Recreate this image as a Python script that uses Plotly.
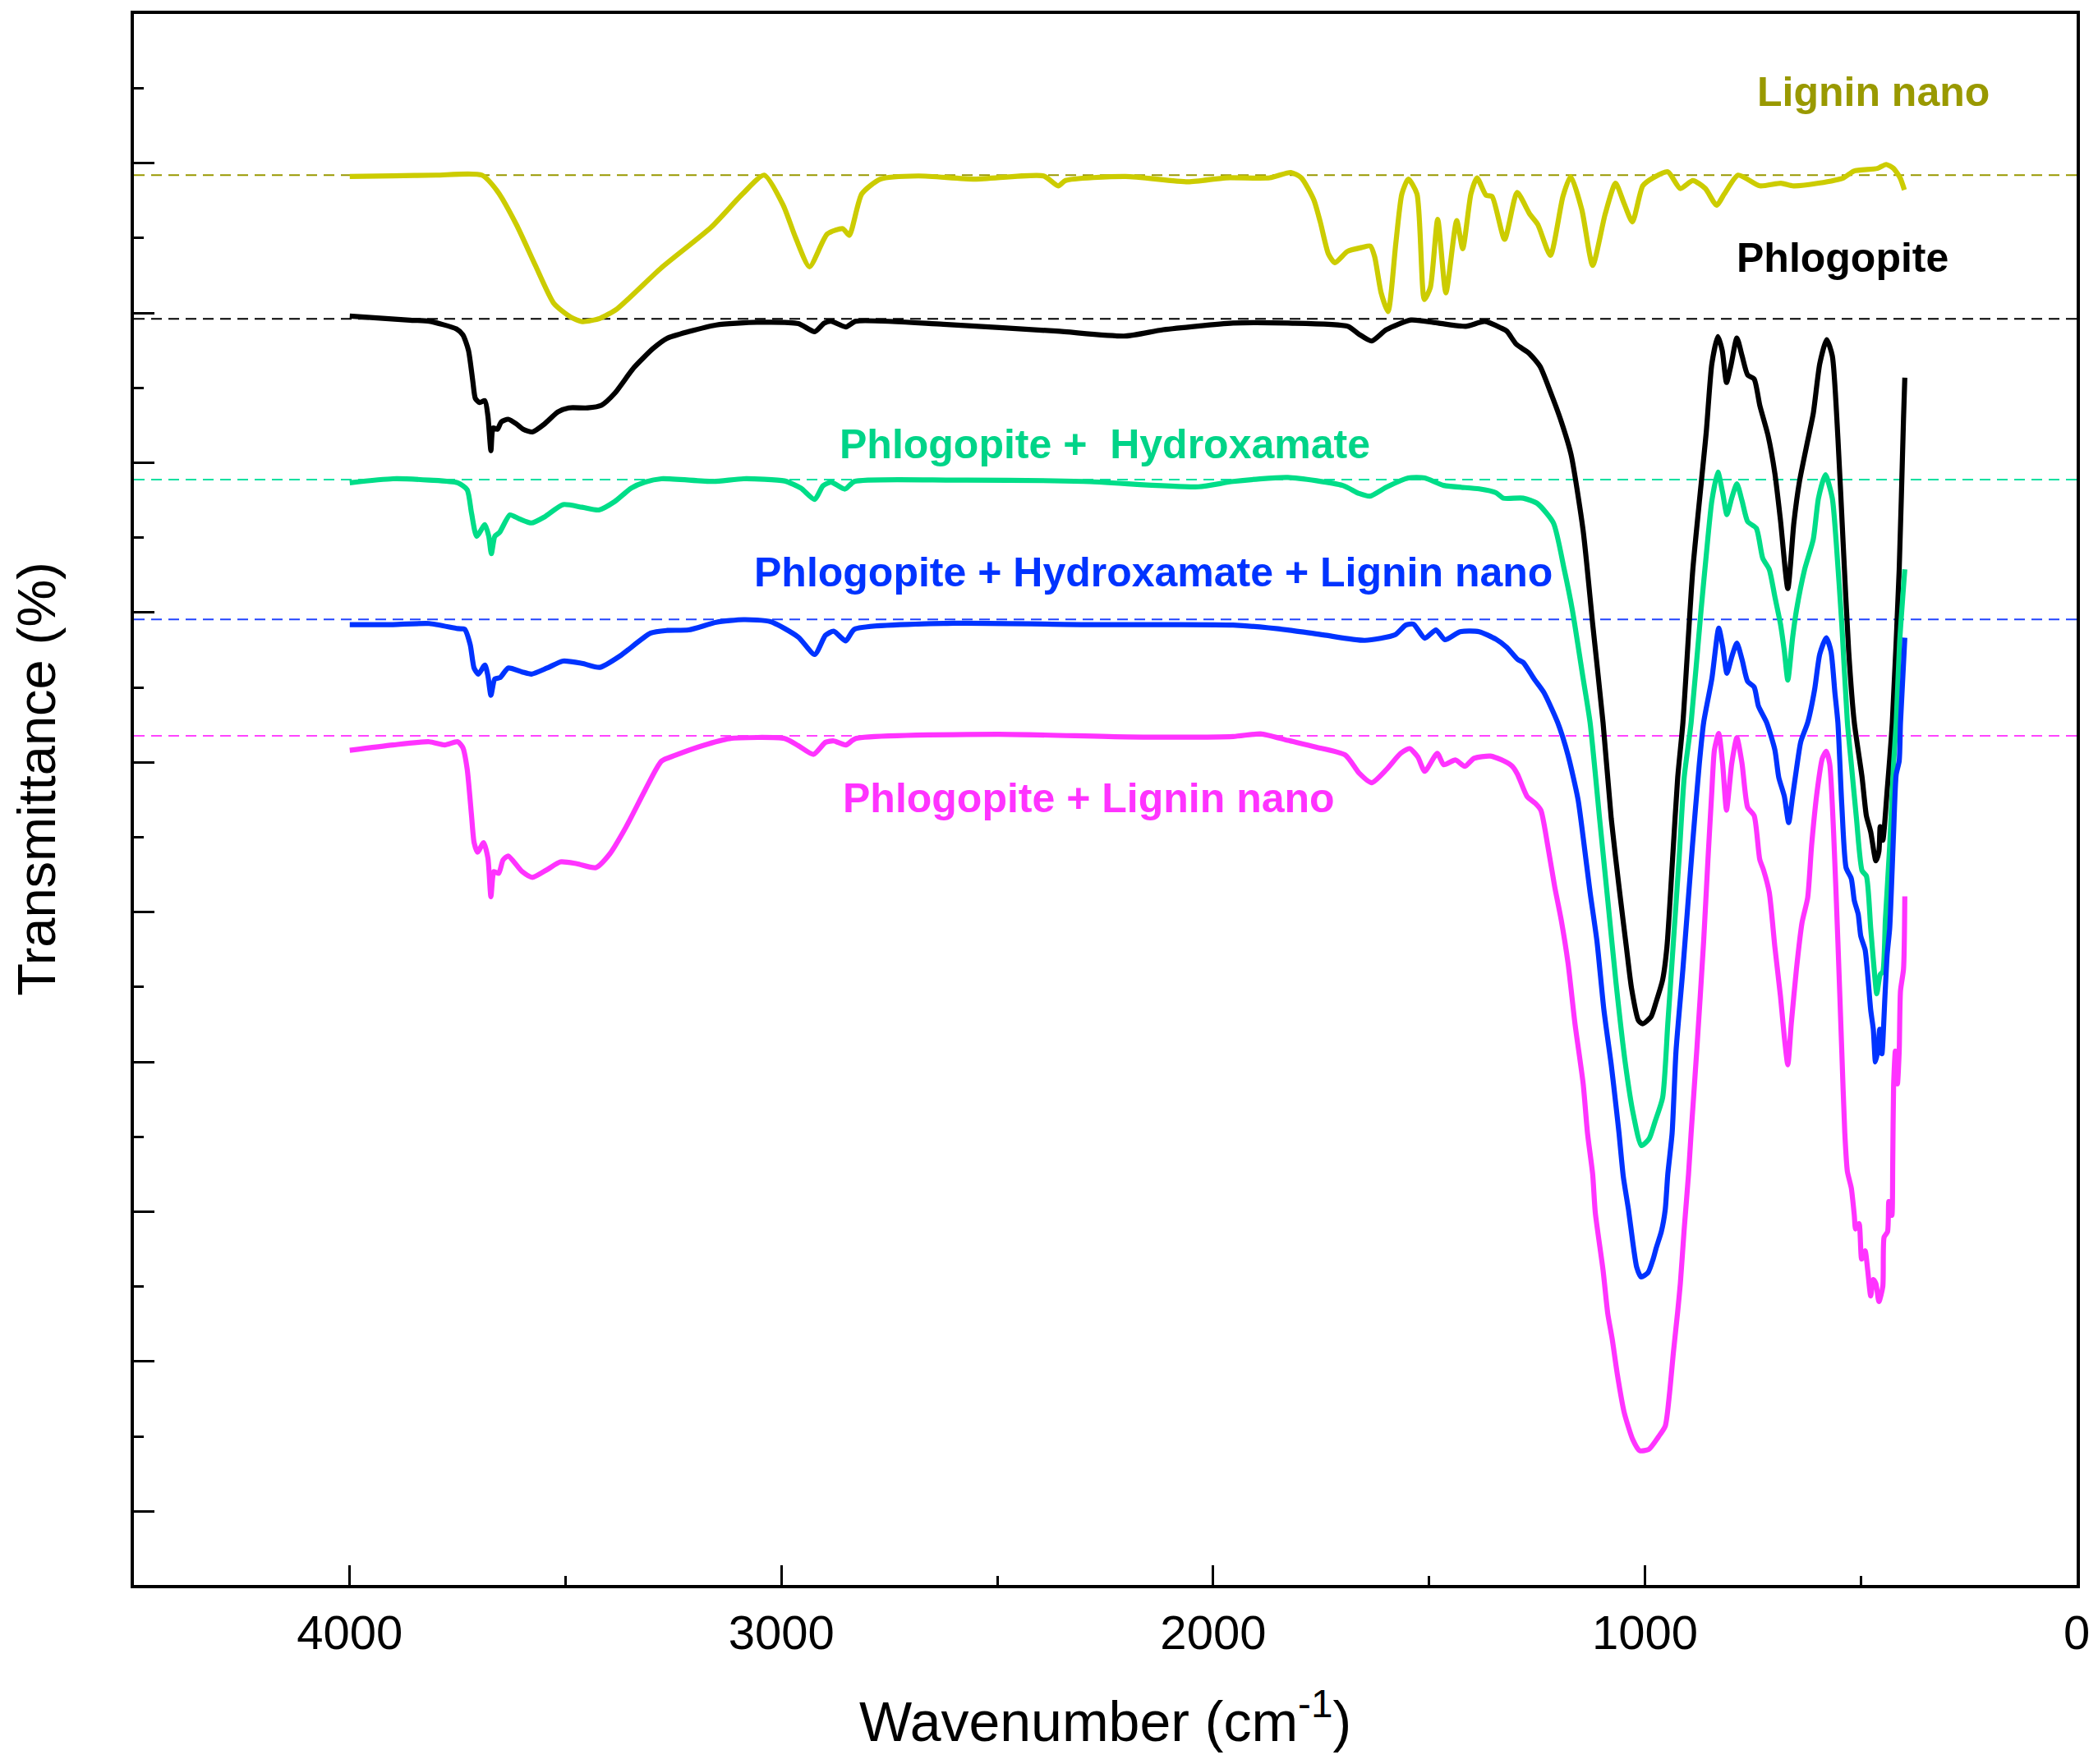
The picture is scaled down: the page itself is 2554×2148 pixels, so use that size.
import plotly.graph_objects as go

# ---------------- data (wavenumber in cm-1, transmittance in arbitrary offset units) -------------
lignin_wn = [4000, 3900, 3800, 3694, 3658, 3614, 3570, 3527, 3489, 3461, 3420, 3381, 3279, 3163, 3090,
             3040, 2996, 2967, 2935, 2894, 2858, 2843, 2814, 2771, 2683, 2553, 2393, 2359, 2342, 2203,
             2058, 1971, 1869, 1820, 1796, 1767, 1752, 1733, 1718, 1689, 1655, 1636, 1626, 1611, 1595,
             1577, 1563, 1548, 1528, 1511, 1497, 1480, 1461, 1436, 1422, 1403, 1389, 1368, 1354, 1325,
             1296, 1267, 1248, 1219, 1190, 1172, 1146, 1121, 1092, 1068, 1049, 1029, 1005, 981, 947,
             918, 889, 860, 834, 816, 784, 734, 685, 656, 598, 540, 516, 462, 441, 424, 409, 399]
lignin_t = [1068, 1068.5, 1069, 1069, 1057, 1032, 1001.5, 973, 963, 959.5, 962, 969, 999.5, 1030, 1055,
            1069, 1046.5, 1022, 1000.5, 1025, 1029, 1024, 1055, 1066, 1068.4, 1066, 1068.4, 1061, 1065, 1068,
            1064, 1067, 1067, 1071, 1067, 1050.6, 1034, 1010, 1003.5, 1012, 1015, 1016, 1008, 981, 967,
            1018, 1055, 1066, 1055, 976, 985, 1036, 981, 1035, 1014, 1055, 1067, 1054, 1053, 1021,
            1056, 1040, 1032, 1009, 1053, 1068, 1043, 1001.5, 1040, 1063, 1048.5, 1034, 1061, 1067, 1071.5,
            1059, 1065, 1059, 1046.5, 1055, 1069, 1061, 1063, 1061, 1063, 1067, 1072, 1074, 1077, 1074, 1067, 1058]

phlog_wn = [4000, 3861, 3816, 3753, 3738, 3725, 3715, 3709, 3699, 3687, 3680, 3673, 3668, 3658, 3649,
            3633, 3614, 3598, 3577, 3549, 3518, 3493, 3449, 3417, 3386, 3342, 3297, 3265, 3215, 3151,
            3056, 2961, 2923, 2901, 2885, 2851, 2828, 2625, 2363, 2203, 2116, 1954, 1827, 1688, 1662,
            1633, 1599, 1542, 1479, 1415, 1371, 1333, 1320, 1298, 1269, 1243, 1219, 1194, 1171, 1143,
            1121, 1097, 1078, 1060, 1043, 1031, 1015, 1005, 986, 974, 959, 949, 936, 924, 912,
            889, 858, 845, 831, 821, 811, 800, 787, 775, 762, 747, 734, 715, 699, 686,
            669, 655, 642, 623, 610, 595, 579, 566, 553, 541, 528, 515, 497, 487, 477,
            465, 458, 455, 449, 439, 427, 411, 401, 398]
phlog_t = [963.6, 960.6, 959.8, 954, 949.6, 938, 915, 902, 899, 900.4, 889, 863, 880, 879, 884.5,
           886.5, 883, 879, 877, 883, 892, 895, 895, 897, 906, 925, 939.5, 947, 952, 957,
           959, 958, 952, 958.4, 959.8, 955.5, 959.8, 957.5, 952.4, 948.7, 953.4, 958.4, 958.4, 956, 950,
           945, 953.5, 960.7, 958.4, 956, 959.6, 954.7, 952.4, 942.6, 936, 926, 907, 885, 860, 803,
           733.4, 659.7, 588, 537, 492, 461, 437, 434.6, 439.7, 451, 467.4, 492, 557.4, 619, 659.7,
           774.3, 876.6, 928, 948.3, 938, 914, 928, 947.3, 934, 919.6, 916.6, 897, 874.6, 846, 811,
           760, 809, 840, 870.5, 891, 928, 946, 934, 872.6, 794.8, 713, 659.7, 618.8, 590, 578,
           556.4, 563.5, 582, 571.7, 608.6, 659.7, 774.3, 887, 917.6]

hydrox_wn = [4000, 3900, 3816, 3750, 3728, 3718, 3706, 3687, 3678, 3672, 3664, 3653, 3629, 3607, 3579,
             3549, 3506, 3462, 3423, 3386, 3348, 3316, 3278, 3158, 3088, 2993, 2955, 2923, 2904, 2885,
             2853, 2831, 2600, 2300, 2034, 1954, 1827, 1700, 1662, 1637, 1599, 1548, 1510, 1466, 1384,
             1345, 1328, 1282, 1249, 1212, 1187, 1168, 1143, 1127, 1105, 1086, 1067, 1045, 1027, 1008,
             990, 977, 959, 947, 934, 921, 909, 893, 870, 858, 845, 831, 820, 810, 799,
             787, 775, 762, 742, 727, 712, 699, 686, 677, 669, 658, 649, 630, 610, 598,
             582, 566, 557, 544, 531, 522, 510, 497, 487, 477, 468, 463, 455, 449, 443,
             433, 424, 418, 410, 398]
hydrox_t = [839, 842, 841, 839, 833.8, 816.4, 799, 807.7, 799, 786, 799, 801.9, 815, 812, 809,
            813.5, 822.7, 820.7, 818.7, 825, 835, 839.5, 842, 840, 842, 840.4, 835, 826.5, 836.7, 839.5,
            834.3, 840, 841, 840, 836, 840, 843, 837, 831, 829, 835.7, 842.6, 842.6, 837, 834.5,
            831.6, 827.5, 827.5, 823.5, 809, 774.3, 743.7, 692.5, 659.7, 588, 526.7, 465.3, 404, 367, 343.5,
            348.7, 361, 379.3, 434.6, 496, 557.4, 618.8, 659.7, 743.7, 784.6, 825.5, 847, 831.6, 815.2, 827.5,
            838.2, 825.5, 810, 805, 782.5, 774.3, 753.8, 733.4, 713, 691.5, 723, 743.7, 774.3, 796.8, 827.5,
            845, 827.5, 794.8, 733.4, 659.7, 629, 588, 549, 545, 506, 471.4, 457, 471.4, 473.5, 512.4,
            567.6, 629, 659.7, 720, 774.3]

hyd_lig_wn = [4000, 3900, 3816, 3750, 3734, 3721, 3712, 3702, 3687, 3680, 3673, 3664, 3652, 3633, 3601,
              3579, 3543, 3506, 3462, 3421, 3373, 3303, 3265, 3215, 3151, 3088, 3025, 2961, 2923, 2898,
              2879, 2851, 2831, 2600, 2300, 2100, 1954, 1827, 1745, 1649, 1579, 1554, 1536, 1510, 1484,
              1463, 1428, 1384, 1345, 1320, 1295, 1282, 1257, 1234, 1202, 1178, 1155, 1143, 1127, 1111,
              1095, 1078, 1067, 1060, 1050, 1038, 1028, 1019, 1009, 993, 981, 974, 962, 953, 947,
              937, 928, 912, 890, 874, 864, 845, 829, 820, 810, 799, 787, 775, 762, 747,
              737, 718, 699, 690, 677, 667, 658, 649, 639, 623, 607, 595, 580, 569, 560,
              553, 544, 534, 522, 515, 506, 500, 490, 484, 477, 471, 466, 461, 456, 451,
              444, 439, 433, 424, 418, 411, 408, 398]
hyd_lig_t = [733, 733, 733.8, 730, 729.5, 718, 700.5, 696, 702.8, 694.7, 680.2, 692.4, 693.3, 700.5, 697.6,
             696, 700.5, 705.7, 704, 701, 709.8, 726.6, 728.6, 729, 734.7, 736.7, 735.2, 723.6, 710.6, 725,
             728, 720.8, 729.5, 734, 733, 733, 732.6, 729, 725.3, 721.2, 725.3, 732.6, 733.3, 722.8, 729,
             721.7, 727.7, 727.7, 722, 716, 707, 704.7, 692.5, 682.2, 659.7, 635.2, 602.4, 573.8, 532.8, 496,
             444.8, 403.9, 373.2, 352.8, 320, 295.5, 270.9, 252.5, 245.3, 248.4, 258.6, 266.8, 279.1, 295.5, 322.1,
             352.8, 414, 475.5, 567.6, 629, 659.7, 692.5, 730.3, 717, 696.6, 708.8, 719.1, 706.8, 690.4, 686.3,
             672, 659.7, 639.3, 618.8, 604.5, 585, 604.5, 624.9, 645.4, 659.7, 684.3, 710.9, 723.2, 713, 682.2,
             659.7, 598.3, 551.2, 543.1, 526.7, 516.5, 500.1, 489.9, 471.4, 444.8, 430.5, 406, 414.1, 430.5, 412.1,
             455.1, 485.8, 506.2, 577.9, 620.9, 631.1, 659.7, 723.2]

phl_lig_wn = [4000, 3900, 3816, 3780, 3750, 3738, 3728, 3718, 3712, 3704, 3690, 3680, 3673, 3666, 3655,
              3645, 3633, 3601, 3577, 3543, 3512, 3474, 3430, 3398, 3360, 3316, 3278, 3246, 3183, 3120,
              2993, 2961, 2926, 2898, 2879, 2851, 2828, 2500, 2200, 1954, 1890, 1827, 1764, 1694, 1662,
              1633, 1599, 1566, 1545, 1526, 1510, 1481, 1466, 1439, 1417, 1396, 1358, 1326, 1307, 1295,
              1273, 1254, 1241, 1225, 1209, 1194, 1178, 1162, 1143, 1133, 1121, 1115, 1097, 1086, 1076,
              1064, 1048, 1028, 1012, 991, 969, 953, 943, 934, 924, 918, 909, 899, 893, 880,
              864, 854, 845, 839, 829, 820, 811, 799, 787, 775, 762, 747, 734, 725, 712,
              699, 686, 677, 669, 661, 649, 636, 623, 614, 601, 589, 580, 572, 563, 553,
              544, 537, 531, 522, 515, 512, 504, 498, 490, 484, 477, 471, 465, 458, 449,
              446, 438, 435, 428, 426, 424, 420, 415, 411, 408, 401, 398]
phl_lig_t = [639, 643, 645.4, 643, 645.4, 641, 625, 590.4, 570, 562.8, 570, 558.5, 529.6, 548.4, 547,
             557, 560, 548.4, 544, 549.8, 555.6, 554.2, 551.3, 561.4, 581.7, 609.2, 630.9, 635.3, 642.5, 647.8,
             647.8, 642.5, 636, 645, 646, 643, 647.8, 651, 649, 649.3, 651.3, 646.4, 641.6, 635.5, 622,
             614.8, 624.6, 636.7, 640.3, 634, 623.3, 636.7, 628.2, 631.8, 627, 633, 634.7, 631, 627, 621,
             604.5, 599.4, 594.2, 567.6, 537, 512.4, 479.7, 434.6, 389.6, 352.8, 322, 293.4, 250.4, 217.7, 199.3,
             172.7, 144, 123.6, 115.4, 116.4, 125.6, 133.7, 158.3, 189, 219.7, 240.2, 281.1, 322.1, 352.8, 414.1,
             496, 557.4, 608.6, 639.3, 651.6, 629, 594.2, 629, 648.5, 629, 596.3, 590.2, 557.4, 549.2, 532.8,
             491.9, 455.1, 424.4, 403.9, 434.6, 475.5, 510.4, 528.8, 567.6, 608.6, 633.1, 638.2, 629, 577.9, 496,
             414.1, 352.8, 324.1, 311.8, 291.3, 281.1, 285.2, 258.6, 264.8, 250.4, 231, 243.3, 240.2, 226.9, 238.1,
             275, 279.1, 301.6, 291.3, 330, 388, 414.1, 389.6, 414.1, 459.2, 475.5, 529.8]

# baselines (dashed reference lines), one per spectrum
baseline_t = [1069, 961.5, 841.4, 736.9, 649.9]

series_names = ["Lignin nano", "Phlogopite", "Phlogopite +  Hydroxamate",
                "Phlogopite + Hydroxamate + Lignin nano", "Phlogopite + Lignin nano"]
# label anchor positions (wavenumber, transmittance)
label_wn = [471, 542, 2251, 2139, 2288]
label_t = [1131, 1007, 868, 772, 603]

x_tick_vals = [4000, 3000, 2000, 1000, 0]
x_tick_text = ["4000", "3000", "2000", "1000", "0"]

# ---------------- styling ----------------
line_colors = ["#CCCC00", "#000000", "#00DD88", "#0033FF", "#FF33FF"]
label_colors = ["#999900", "#000000", "#00D488", "#0033FF", "#FF33FF"]
dash_colors = ["#999900", "#000000", "#00E0A0", "#2244FF", "#FF44FF"]
FONT = "Liberation Sans, Arial, Helvetica, sans-serif"

xs = [lignin_wn, phlog_wn, hydrox_wn, hyd_lig_wn, phl_lig_wn]
ys = [lignin_t, phlog_t, hydrox_t, hyd_lig_t, phl_lig_t]

fig = go.Figure()
for name, x, y, c in zip(series_names, xs, ys, line_colors):
    fig.add_trace(go.Scatter(x=x, y=y, mode="lines", name=name,
                             line=dict(color=c, width=6.2, shape="spline", smoothing=0.6),
                             showlegend=False))

for b, c in zip(baseline_t, dash_colors):
    fig.add_shape(type="line", xref="paper", x0=0, x1=1, yref="y", y0=b, y1=b,
                  line=dict(color=c, width=2, dash="13px,8px"), layer="below")

for name, lx, ly, c in zip(series_names, label_wn, label_t, label_colors):
    fig.add_annotation(x=lx, y=ly, xref="x", yref="y", text="<b>%s</b>" % name.replace("  ", " \u00a0"),
                       showarrow=False, font=dict(family=FONT, size=50, color=c),
                       xanchor="center", yanchor="middle")

# axis titles
fig.add_annotation(xref="paper", yref="paper", x=0.5, y=-0.1075, xanchor="center", yanchor="bottom",
                   text="Wavenumber (cm<sup>-1</sup>)", showarrow=False,
                   font=dict(family=FONT, size=68, color="black"))
fig.add_annotation(xref="paper", yref="paper", x=0, y=0.513, xshift=-118, xanchor="center",
                   yanchor="middle", textangle=-90, text="Transmittance (%)", showarrow=False,
                   font=dict(family=FONT, size=65, color="black"))

# the page body has an 8px default margin, so the figure is made 8px smaller and
# the left / top margins are reduced by 8px to keep the plot area in place
fig.update_layout(
    width=2546, height=2140,
    margin=dict(l=155, r=26, t=5, b=218),
    paper_bgcolor="white", plot_bgcolor="white",
    font=dict(family=FONT, color="black"),
)
fig.update_xaxes(
    range=[4500, 0], showgrid=False, zeroline=False,
    showline=True, linecolor="black", linewidth=4, mirror=True,
    ticks="inside", ticklen=24, tickwidth=3, tickcolor="black",
    tickvals=x_tick_vals, ticktext=x_tick_text,
    tickfont=dict(family=FONT, size=58, color="black"),
    ticklabelstandoff=4,
    minor=dict(ticks="inside", ticklen=11, tickwidth=3, tickcolor="black", tick0=0, dtick=500, showgrid=False),
)
fig.update_yaxes(
    range=[15, 1189.5], showgrid=False, zeroline=False,
    showline=True, linecolor="black", linewidth=4, mirror=True,
    ticks="inside", ticklen=25, tickwidth=3, tickcolor="black",
    tick0=70, dtick=112, showticklabels=False,
    minor=dict(ticks="inside", ticklen=12, tickwidth=3, tickcolor="black", tick0=14, dtick=56, showgrid=False),
)

fig.write_html("out.html")
